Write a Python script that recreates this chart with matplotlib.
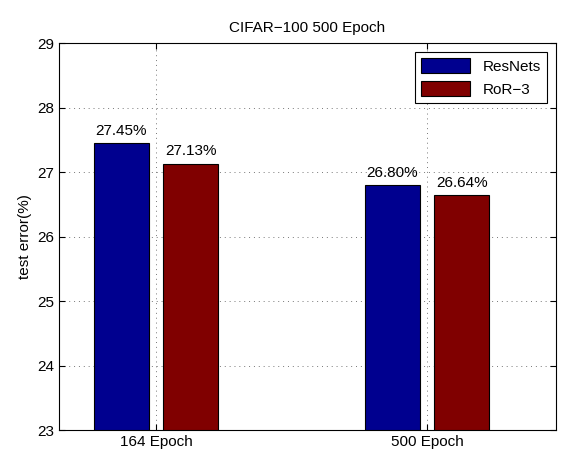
import numpy as np
import matplotlib
matplotlib.use('Agg')
import matplotlib.pyplot as plt

plt.rcParams['font.family'] = ['Liberation Sans', 'DejaVu Sans']

groups = ['164 Epoch', '500 Epoch']
resnets = [27.45, 26.80]
ror3 = [27.13, 26.64]
labels_res = ['27.45%', '26.80%']
labels_ror = ['27.13%', '26.64%']

fs = 11

fig = plt.figure(figsize=(5.81, 4.65), dpi=100)
ax = fig.add_axes([59/581, 35/465, 497/581, 387/465])

x = np.arange(1, len(groups) + 1)
w = 0.203
off = 0.129
b1 = ax.bar(x - off, [v - 23 for v in resnets], w, bottom=23, color='#00008F',
            edgecolor='black', linewidth=0.8, label='ResNets', zorder=3)
b2 = ax.bar(x + off, [v - 23 for v in ror3], w, bottom=23, color='#800000',
            edgecolor='black', linewidth=0.8, label='RoR\u22123', zorder=3)

# value labels above bars
for rect, t in zip(b1, labels_res):
    ax.text(rect.get_x() + rect.get_width()/2, rect.get_y() + rect.get_height() + 0.08,
            t, ha='center', va='bottom', fontsize=fs)
for rect, t in zip(b2, labels_ror):
    ax.text(rect.get_x() + rect.get_width()/2, rect.get_y() + rect.get_height() + 0.08,
            t, ha='center', va='bottom', fontsize=fs)

ax.set_xlim(1 - 97/271, 2 + 129/271)
ax.set_ylim(23, 29)
ax.set_xticks(x)
ax.set_xticklabels(groups, fontsize=fs)
ax.set_yticks(range(23, 30))
ax.tick_params(axis='y', labelsize=fs)
ax.tick_params(direction='in', top=True, right=True, length=4)
ax.grid(True, linestyle=(0, (1, 4)), color='#777777', linewidth=0.7, zorder=0)
ax.set_axisbelow(True)
ax.set_ylabel('test error(%)', fontsize=fs)
ax.set_title('CIFAR\u2212100 500 Epoch', fontsize=fs, pad=8)

leg = ax.legend(loc='upper right', fontsize=fs, fancybox=False, framealpha=1,
                edgecolor='black', handlelength=3.2, handleheight=1.1,
                borderaxespad=0.6)
leg.get_frame().set_linewidth(0.8)

fig.savefig('out.png', dpi=100)
